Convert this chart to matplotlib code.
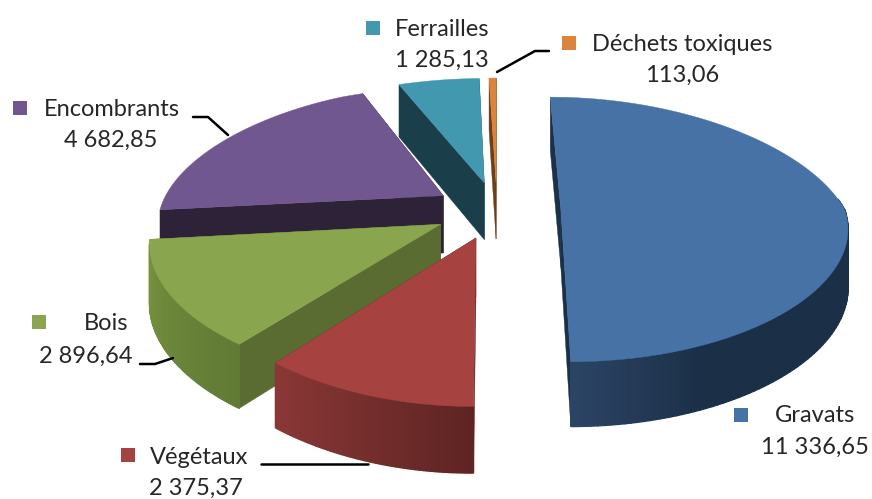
import numpy as np
import matplotlib
matplotlib.use("Agg")
import matplotlib.pyplot as plt
from matplotlib.patches import Polygon, Rectangle

plt.rcParams["font.family"] = ["Lato", "DejaVu Sans"]

categories = ["Gravats", "Végétaux", "Bois", "Encombrants", "Ferrailles", "Déchets toxiques"]
values = [11336.65, 2375.37, 2896.64, 4682.85, 1285.13, 113.06]
value_labels = ["11 336,65", "2 375,37", "2 896,64", "4 682,85", "1 285,13", "113,06"]

top_colors = ["#4672A6", "#A64340", "#89A54D", "#71578F", "#4198AF", "#DB843D"]
cut_colors = ["#1B3149", "#5E2625", "#5B6C33", "#2D2238", "#1A3F4B", "#6B3F1A"]
wall_light = ["#2B4464", "#8A3836", "#76923F", "#4A3960", "#2B6070", "#A86328"]
wall_dark = ["#1B2F47", "#5E2423", "#617A35", "#2D2238", "#1A3F4B", "#6B3F1A"]
wall_fade = [0.25, 1, 1, 1, 1, 1]

# projection of the pie, in pixels
CX, CY = 497, 203
RX, RY = 284, 127
PERSP = 0.2
DEPTH = 58
EXPLODE = 0.225
START = 0.0
SAG = 7


def project(u, v, z=0.0):
    s = 1 / (1 - PERSP * v)
    sx = np.where(np.asarray(v) < 0, s, s ** 0.6)
    sag = SAG * np.clip(1 - np.square(v), 0, None)
    return CX + RX * u * sx, CY + RY * v * s + sag + DEPTH * z * np.sqrt(s)


def rim(angles_deg, cu, cv, z=0.0):
    t = np.radians(angles_deg)
    return project(cu + np.sin(t), cv - np.cos(t), z)


def mix(c1, c2, f):
    a, b = np.array(matplotlib.colors.to_rgb(c1)), np.array(matplotlib.colors.to_rgb(c2))
    return a + (b - a) * f


fig = plt.figure(figsize=(8.72, 4.99), dpi=100)
ax = fig.add_axes([0, 0, 1, 1])
ax.set_xlim(0, 872)
ax.set_ylim(499, 0)
ax.axis("off")

angles = np.array(values) / sum(values) * 360
starts = START + np.concatenate([[0], np.cumsum(angles)[:-1]])

# back slices first
for i in [3, 4, 5, 0, 2, 1]:
    t0, t1 = starts[i], starts[i] + angles[i]
    mid = np.radians((t0 + t1) / 2)
    cu, cv = EXPLODE * np.sin(mid), -EXPLODE * np.cos(mid)

    # flat cut faces
    for t in (t0, t1):
        r = np.radians(t)
        eu, ev = cu + np.sin(r), cv - np.cos(r)
        pts = [project(cu, cv), project(eu, ev), project(eu, ev, 1), project(cu, cv, 1)]
        ax.add_patch(Polygon(pts, color=cut_colors[i], lw=0.3))

    # outer wall, only the part that faces the viewer
    lo, hi = max(t0, 85), min(t1, 262)
    if hi > lo:
        ts = np.linspace(lo, hi, 80)
        xt, yt = rim(ts, cu, cv, 0)
        xb, yb = rim(ts, cu, cv, 1)
        for k in range(len(ts) - 1):
            f = min(1, (1 - k / (len(ts) - 2)) / wall_fade[i])
            pts = [(xt[k], yt[k]), (xt[k + 1], yt[k + 1]), (xb[k + 1], yb[k + 1]), (xb[k], yb[k])]
            c = mix(wall_light[i], wall_dark[i], f)
            ax.add_patch(Polygon(pts, facecolor=c, edgecolor=c, lw=1.0))

    # top face
    x, y = rim(np.linspace(t0, t1, 80), cu, cv)
    ax.add_patch(Polygon([project(cu, cv)] + list(zip(x, y)), color=top_colors[i], lw=0.3))

# labels: key position, name position, value position
label_pos = [
    ((741, 415), (815, 416), (815, 447)),
    ((128, 455), (199, 457), (196, 488)),
    ((39, 322), (106, 324), (86, 356)),
    ((20, 108), (112, 109), (111, 140)),
    ((373, 28), (442, 29), (442, 60)),
    ((569, 43), (682, 44), (682, 75)),
]
for i, (key, name, val) in enumerate(label_pos):
    ax.add_patch(Rectangle((key[0] - 7, key[1] - 7), 14, 14, color=top_colors[i], lw=0))
    ax.text(name[0], name[1], categories[i], ha="center", va="center", fontsize=17, color="#262626")
    ax.text(val[0], val[1], value_labels[i], ha="center", va="center", fontsize=17, color="#262626")

# leader lines
leader_x = [[140, 155, 173], [261, 368], [193, 208, 228], [497, 535, 549]]
leader_y = [[364, 364, 358], [464, 464], [117, 117, 135], [72, 51, 51]]
for lx, ly in zip(leader_x, leader_y):
    ax.plot(lx, ly, color="black", lw=1.8, solid_capstyle="round")

fig.savefig("out.png", dpi=100)
